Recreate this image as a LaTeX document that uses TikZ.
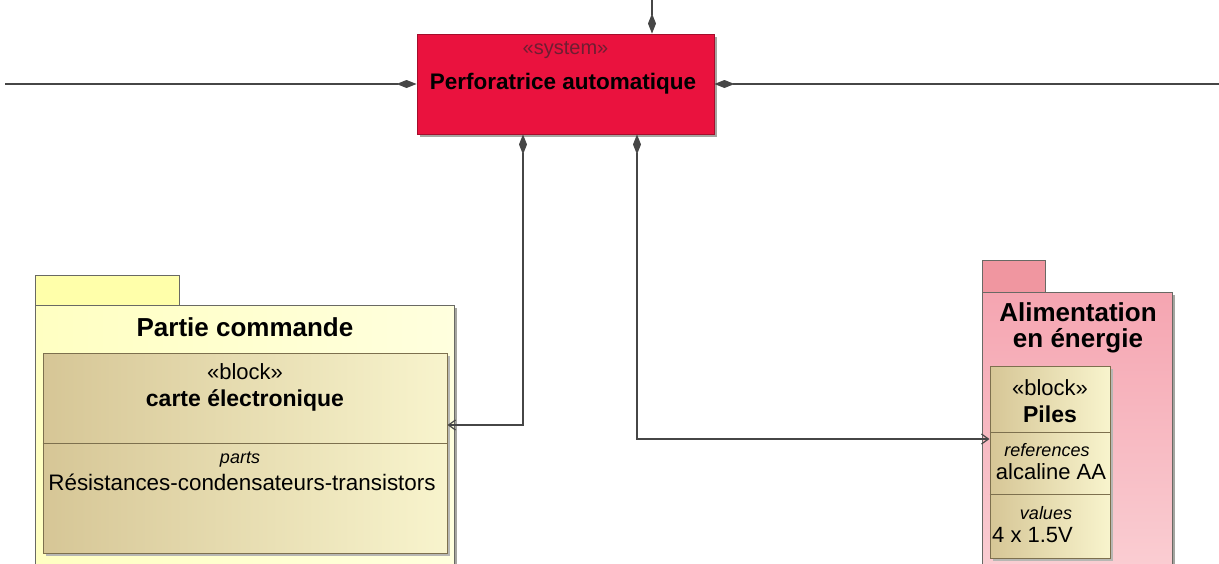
\documentclass[tikz,border=0pt]{standalone}
\usepackage{fontspec}
\setmainfont{Liberation Sans}
\usetikzlibrary{arrows.meta}
\definecolor{sysred}{RGB}{234,18,62}
\definecolor{linegray}{RGB}{70,70,70}
\definecolor{shadowgray}{RGB}{165,165,160}
\definecolor{pkgline}{RGB}{105,105,100}
\definecolor{pkgyellow}{RGB}{255,255,200}
\definecolor{tabyellow}{RGB}{255,255,170}
\definecolor{tanleft}{RGB}{214,198,150}
\definecolor{tanright}{RGB}{248,244,205}
\definecolor{blockline}{RGB}{125,112,78}
\definecolor{pinktop}{RGB}{245,165,177}
\definecolor{pinkbot}{RGB}{250,205,210}
\definecolor{pinktab}{RGB}{240,150,160}
\definecolor{stereo}{RGB}{110,30,50}
\begin{document}
\begin{tikzpicture}[x=1pt,y=-1pt,
  conn/.style={draw=linegray, line width=1.2pt},
  comp/.style={conn, {Diamond[length=20pt,width=8pt,fill=linegray]}-{Straight Barb[length=7pt,width=10pt]}},
  compfree/.style={conn, {Diamond[length=20pt,width=8pt,fill=linegray]}-},
  pkgbox/.style={draw=pkgline, line width=1pt, inner sep=0pt},
  blockbox/.style={draw=blockline, line width=1pt, inner sep=0pt, left color=tanleft, right color=tanright},
  txt/.style={font=\fontsize{22}{26}\selectfont, inner sep=0pt},
  btxt/.style={font=\fontsize{23}{27}\selectfont\bfseries, inner sep=0pt},
  ttxt/.style={font=\fontsize{26}{30}\selectfont\bfseries, inner sep=0pt},
  itxt/.style={font=\fontsize{18}{22}\selectfont\itshape, inner sep=0pt}
]
\useasboundingbox[fill=white] (0,0) rectangle (1219,563);

% ---------- system block ----------
\fill[shadowgray] (420,37) rectangle (717,137);
\node[draw=sysred!70!black, line width=0.8pt, fill=sysred, minimum width=297pt, minimum height=100pt, inner sep=0pt] (sys) at (565.5,84) {};
\node[txt, text=stereo, font=\fontsize{20}{24}\selectfont] (sysst) at (565.5,50) {«system»};
\node[btxt, font=\fontsize{22.5}{27}\selectfont\bfseries] (sysname) at (563,84) {Perforatrice automatique};

% ---------- Partie commande package ----------
\fill[shadowgray] (38,308) rectangle (457,570);
\node[pkgbox, fill=tabyellow, minimum width=144pt, minimum height=30pt] (pctab) at (107,290) {};
\node[pkgbox, left color=pkgyellow!80!tabyellow, right color=pkgyellow!60!white, minimum width=419pt, minimum height=263pt] (pc) at (244.5,436.5) {};
\node[ttxt] (pctitle) at (245,327) {Partie commande};
\fill[shadowgray!80] (46,356) rectangle (450,556);
\node[blockbox, minimum width=404pt, minimum height=200pt] (carte) at (245,453) {};
\draw[blockline, line width=1pt] (carte.west |- 0,443) -- (carte.east |- 0,443);
\node[txt] (cst) at (245,372) {«block»};
\node[btxt] (cname) at (245,400) {carte électronique};
\node[itxt] (cparts) at (240,460) {parts};
\node[txt, font=\fontsize{22.4}{26}\selectfont] (cres) at (242,482) {Résistances-condensateurs-transistors};

% ---------- Alimentation package ----------
\fill[shadowgray] (985,295) rectangle (1175,570);
\node[pkgbox, fill=pinktab, minimum width=63pt, minimum height=32pt] (altab) at (1013.5,276) {};
\node[pkgbox, top color=pinktop, bottom color=pinkbot, minimum width=190pt, minimum height=274pt] (al) at (1077,429) {};
\node[ttxt] (altitle1) at (1078,312) {Alimentation};
\node[ttxt] (altitle2) at (1078,341) {en énergie};
\fill[shadowgray!80] (993,369) rectangle (1113,561);
\node[blockbox, minimum width=120pt, minimum height=192pt] (piles) at (1050,462) {};
\draw[blockline, line width=1pt] (piles.west |- 0,432) -- (piles.east |- 0,432);
\draw[blockline, line width=1pt] (piles.west |- 0,494) -- (piles.east |- 0,494);
\node[txt] (pst) at (1050,388) {«block»};
\node[btxt] (pname) at (1050,414) {Piles};
\node[itxt] (pref) at (1047,450) {references};
\node[txt] (palc) at (1051,472) {alcaline AA};
\node[itxt] (pval) at (1046,513) {values};
\node[txt, anchor=west] (pnum) at (992,535) {4 x 1.5V};

% ---------- free line ends ----------
\coordinate (leftend) at (5,84);
\coordinate (rightend) at (1219,84);
\coordinate (topend) at (652,0);

% ---------- connectors ----------
\draw[compfree] (sys.west) -- (leftend);
\draw[compfree] (sys.east) -- (rightend);
\draw[compfree] ([xshift=86.5pt]sys.north) -- (topend);
\draw[comp] ([xshift=-42.5pt]sys.south) |- ([yshift=28pt]carte.east);
\draw[comp] ([xshift=71.5pt]sys.south) |- ([yshift=23pt]piles.west);
\end{tikzpicture}
\end{document}
